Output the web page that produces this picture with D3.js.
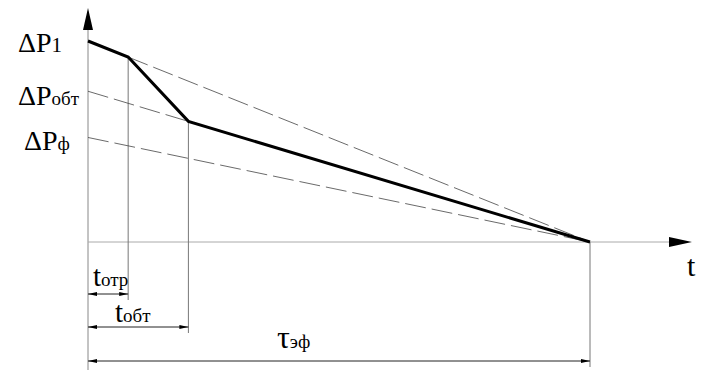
<!DOCTYPE html>
<html>
<head>
<meta charset="utf-8">
<script src="https://cdn.jsdelivr.net/npm/d3@7"></script>
<style>
  body { margin: 0; background: #fff; }
  svg, svg text, svg tspan { font-family: "Liberation Serif", "Times New Roman", Tinos !important; }
</style>
</head>
<body>
<div id="container"></div>
<script>
let w = 716;
let h = 376;

// time values (t axis), arbitrary units
let tOtr = 8;
let tObt = 20;
let tEf = 100;

// pressure drops
let dP1 = 100;
let dPotr = 92;   // value at the end of t_otr
let dPobt = 75;
let dPobtAtT = 60; // value at the end of t_obt
let dPf = 52;

// main (thick) broken line
let mainLine = [[0, dP1], [tOtr, dPotr], [tObt, dPobtAtT], [tEf, 0]];

// thin dashed lines
let dashLines = [
  [[tOtr, dPotr], [tEf, 0]],
  [[0, dPobt], [tEf, 0]],
  [[0, dPf], [tEf, 0]]
];

// y-axis labels
let yLabels = [
  {big: "ΔP", small: "1", v: dP1, dx: 18, dy: 11},
  {big: "ΔP", small: "обт", v: dPobt, dx: 18, dy: 14},
  {big: "ΔP", small: "ф", v: dPf, dx: 24, dy: 13}
];

// dimension lines under the axis
let dims = [
  {t: tOtr, row: 294, big: "t", small: "отр", lx: 93, ly: 286},
  {t: tObt, row: 327, big: "t", small: "обт", lx: 115, ly: 322},
  {t: tEf, row: 361, big: "τ", small: "эф", lx: 277, ly: 348}
];

let x = d3.scaleLinear().domain([0, tEf]).range([88, 590]);
let y = d3.scaleLinear().domain([0, dP1]).range([242, 41]);

let viz = d3.select("#container")
  .append("svg")
  .attr("width", w)
  .attr("height", h)
  .style("font-family", '"Liberation Serif"');

let line = d3.line().x(d => x(d[0])).y(d => y(d[1]));

// axes
viz.append("line")
  .attr("x1", x(0)).attr("x2", x(0))
  .attr("y1", 28).attr("y2", 370)
  .attr("stroke", "#888").attr("stroke-width", 1);
viz.append("path")
  .attr("d", `M${x(0)},8 L${x(0) - 5},30 L${x(0) + 5},30 Z`)
  .attr("fill", "#000");

viz.append("line")
  .attr("x1", x(0)).attr("x2", 672)
  .attr("y1", y(0)).attr("y2", y(0))
  .attr("stroke", "#aaa").attr("stroke-width", 1);
viz.append("path")
  .attr("d", `M692,${y(0)} L669,${y(0) - 5} L669,${y(0) + 5} Z`)
  .attr("fill", "#000");

viz.append("text")
  .attr("x", 687).attr("y", 276)
  .style("font-size", "30px")
  .text("t");

// extension lines
dims.forEach(d => {
  let top = d.t === tEf ? y(0) : y(mainLine.find(p => p[0] === d.t)[1]);
  viz.append("line")
    .attr("x1", x(d.t)).attr("x2", x(d.t))
    .attr("y1", top).attr("y2", d.row + 6)
    .attr("stroke", "#777").attr("stroke-width", 1);
});

// dashed lines
viz.selectAll(".dash").data(dashLines).enter()
  .append("path")
  .attr("class", "dash")
  .attr("d", line)
  .attr("fill", "none")
  .attr("stroke", "#444")
  .attr("stroke-width", 0.8)
  .attr("stroke-dasharray", "21,6");

// main thick line
viz.append("path")
  .datum(mainLine)
  .attr("d", line)
  .attr("fill", "none")
  .attr("stroke", "#000")
  .attr("stroke-width", 3)
  .attr("stroke-linejoin", "miter");

// y labels
yLabels.forEach(l => {
  let t = viz.append("text")
    .attr("x", l.dx)
    .attr("y", y(l.v) + l.dy)
    .style("font-size", "28px");
  t.append("tspan").text(l.big);
  t.append("tspan").style("font-size", l.small === "1" ? "21px" : "19px").text(l.small);
});

// dimension lines with arrows
dims.forEach(d => {
  let x0 = x(0), x1 = x(d.t);
  viz.append("line")
    .attr("x1", x0).attr("x2", x1)
    .attr("y1", d.row).attr("y2", d.row)
    .attr("stroke", "#222").attr("stroke-width", 1);
  viz.append("path")
    .attr("d", `M${x0},${d.row} L${x0 + 9},${d.row - 2} L${x0 + 9},${d.row + 2} Z`)
    .attr("fill", "#000");
  viz.append("path")
    .attr("d", `M${x1},${d.row} L${x1 - 9},${d.row - 2} L${x1 - 9},${d.row + 2} Z`)
    .attr("fill", "#000");

  let t = viz.append("text")
    .attr("x", d.lx).attr("y", d.ly)
    .style("font-size", d.big === "τ" ? "32px" : "29px");
  t.append("tspan").text(d.big);
  t.append("tspan").style("font-size", "19px").text(d.small);
});
</script>
</body>
</html>
